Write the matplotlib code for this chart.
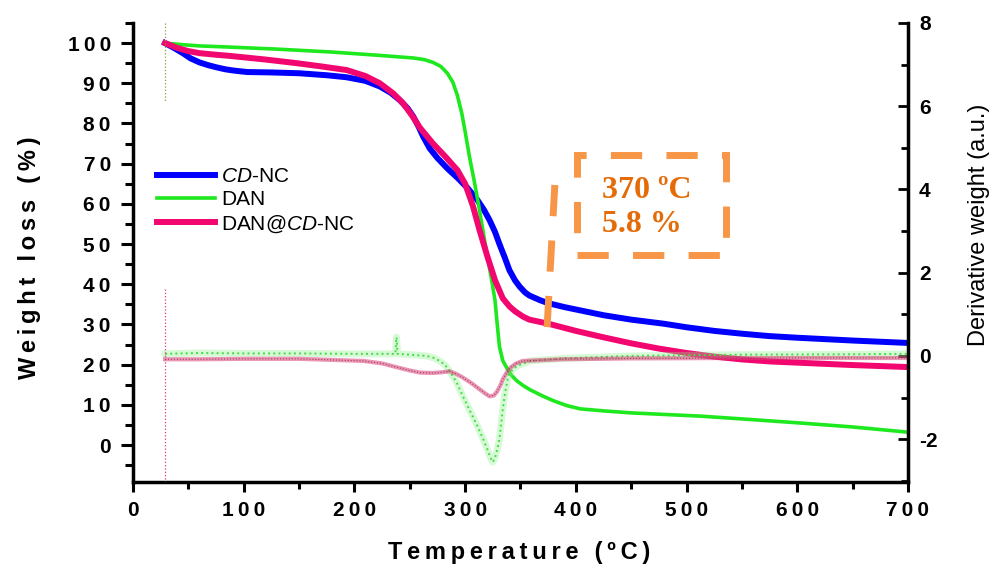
import matplotlib
matplotlib.use("Agg")
import matplotlib.pyplot as plt
from matplotlib.patches import Rectangle
from matplotlib.ticker import MultipleLocator, FuncFormatter

plt.rcParams["font.family"] = ["Liberation Sans", "DejaVu Sans"]
plt.rcParams["mathtext.fontset"] = "custom"
plt.rcParams["mathtext.it"] = "Liberation Sans:italic"
plt.rcParams["mathtext.rm"] = "Liberation Sans"
plt.rcParams["axes.unicode_minus"] = False

# TGA curves (weight %, left axis)
cdnc_t = [29, 37, 45, 52, 60, 68, 75, 83, 90, 103, 125, 150, 175, 193, 210, 223, 233, 241, 248,
          253, 258, 262, 268, 275, 284, 293, 302, 311, 317, 322, 327, 331, 336, 340, 345, 349,
          354, 358, 368, 375, 390, 404, 425, 450, 479, 500, 525, 550, 575, 600, 650, 700]
cdnc_w = [100, 98.8, 97.5, 96.2, 95.2, 94.5, 94, 93.5, 93.2, 92.8, 92.7, 92.5, 92, 91.5, 90.6,
          89.2, 87.6, 85.8, 83.8, 81.8, 79.2, 76.8, 73.8, 71.4, 68.8, 66.5, 64, 61, 58.5, 56, 53,
          50, 46.5, 43.5, 41, 39.5, 38, 37.2, 36, 35.3, 34.3, 33.5, 32.3, 31.2, 30.2, 29.3, 28.4,
          27.7, 27.1, 26.7, 26, 25.4]

dan_t = [29, 45, 60, 88, 130, 178, 220, 253, 263, 271, 278, 284, 289, 293, 297, 300, 304, 308,
         312, 316, 320, 324, 327, 329, 331, 334, 338, 342, 347, 353, 359, 370, 380, 392, 404, 425,
         450, 512, 550, 602, 650, 700]
dan_w = [100, 99.6, 99.3, 99, 98.5, 97.8, 97, 96.3, 95.9, 95.2, 94.2, 92.5, 90.2, 87, 82.5, 78,
         71.6, 66, 60, 53.5, 47, 41, 36, 30, 24.5, 21, 19, 17.3, 15.9, 14.7, 13.7, 12.2, 11, 9.8,
         9, 8.5, 8.0, 7.2, 6.5, 5.5, 4.5, 3.2]

mix_t = [29, 40, 50, 60, 75, 88, 120, 148, 170, 193, 210, 223, 235, 244, 252, 259, 265, 271, 282,
         293, 300, 307, 313, 320, 327, 334, 340, 345, 352, 358, 375, 400, 425, 450, 475, 500, 525,
         550, 575, 600, 650, 700]
mix_w = [100, 98.8, 98, 97.5, 97.1, 96.8, 95.9, 95, 94.2, 93.3, 91.8, 90, 87.5, 85, 82, 79, 77,
         75, 71.8, 68.4, 65, 59.5, 53.5, 47, 41, 36.5, 34.5, 33.3, 32, 31.2, 30.2, 28.4, 26.8,
         25.3, 24, 22.9, 22, 21.3, 20.8, 20.5, 19.9, 19.4]

# DTG curves (derivative, right axis)
dtg_dan_t = [29, 60, 100, 150, 200, 230, 237, 238, 239, 250, 265, 272, 277, 282, 286, 292, 298,
             304, 311, 316, 320, 323, 325, 327, 329, 331, 334, 336, 339, 343, 347, 359, 388, 450,
             550, 650, 700]
dtg_dan_d = [0.05, 0.07, 0.06, 0.06, 0.05, 0.05, 0.05, 0.45, 0.05, 0.03, 0.0, -0.05, -0.12, -0.22,
             -0.37, -0.62, -0.97, -1.3, -1.68, -1.98, -2.24, -2.45, -2.55, -2.45, -2.25, -2.0,
             -1.28, -0.9, -0.48, -0.32, -0.24, -0.12, -0.06, 0.0, 0.03, 0.04, 0.05]

dtg_mix_t = [29, 60, 100, 150, 208, 225, 238, 250, 259, 271, 280, 286, 292, 298, 306, 313, 318,
             322, 326, 329, 332, 334, 338, 341, 346, 352, 388, 450, 550, 650, 700]
dtg_mix_d = [-0.08, -0.08, -0.07, -0.07, -0.12, -0.18, -0.27, -0.35, -0.4, -0.41, -0.39, -0.37,
             -0.43, -0.52, -0.66, -0.8, -0.9, -0.97, -0.95, -0.85, -0.7, -0.56, -0.38, -0.28,
             -0.18, -0.12, -0.08, -0.06, -0.05, -0.05, -0.05]

# start-of-run spikes in the derivative traces
spike_t = [29, 29]
spike_mix_d = [1.6, -3.1]
spike_dan_d = [8.0, 6.1]

labels = ["$\\mathit{CD}$-NC", "DAN", "DAN@$\\mathit{CD}$-NC"]
note = "370 ºC\n5.8 %"

BLUE = "#0000FF"
GREEN = "#1EE81E"
PINK = "#F2066F"
ORANGE = "#F79646"


def spaced(s):
    return "\u2009".join(s)


fig = plt.figure(figsize=(9.97, 5.75), dpi=100)
ax = fig.add_axes([0.1334, 0.1617, 0.7773, 0.7983])
ax2 = ax.twinx()

ax.plot(cdnc_t, cdnc_w, color=BLUE, lw=4.3, label=labels[0], zorder=3)
ax.plot(dan_t, dan_w, color=GREEN, lw=2.6, label=labels[1], zorder=3)
ax.plot(mix_t, mix_w, color=PINK, lw=4.3, label=labels[2], zorder=3)

ax2.plot(dtg_dan_t, dtg_dan_d, color="#8CF08C", lw=5, alpha=0.35)
ax2.plot(dtg_dan_t, dtg_dan_d, color="#45DC45", lw=1.4, ls=":")
ax2.plot(dtg_mix_t, dtg_mix_d, color="#DC3C78", lw=3, alpha=0.55)
ax2.plot(dtg_mix_t, dtg_mix_d, color="#A0405A", lw=0.8, ls=":")
ax2.plot(spike_t, spike_mix_d, color="#E0307A", lw=0.9, ls=":")
ax2.plot(spike_t, spike_dan_d, color="#8A9A40", lw=0.9, ls=":")

ax.set_xlim(0, 700)
ax.set_ylim(-9.2, 105)
ax2.set_ylim(-3.03, 8)

ax.xaxis.set_major_locator(MultipleLocator(100))
ax.xaxis.set_minor_locator(MultipleLocator(50))
ax.yaxis.set_major_locator(MultipleLocator(10))
ax.yaxis.set_minor_locator(MultipleLocator(5))
ax2.yaxis.set_major_locator(MultipleLocator(2))
ax2.yaxis.set_minor_locator(MultipleLocator(1))

fmt = FuncFormatter(lambda v, p: spaced(f"{v:g}"))
ax.xaxis.set_major_formatter(fmt)
ax.yaxis.set_major_formatter(fmt)

for s in ["top", "right"]:
    ax.spines[s].set_visible(False)
for s in ["top", "left", "bottom"]:
    ax2.spines[s].set_visible(False)
for sp in [ax.spines["left"], ax.spines["bottom"], ax2.spines["right"]]:
    sp.set_linewidth(2.5)

ax.tick_params(axis="y", which="major", direction="out", length=9, width=2.2, pad=7)
ax.tick_params(axis="y", which="minor", direction="out", length=6, width=2.2)
ax.tick_params(axis="x", which="major", direction="out", length=7, width=2.2, pad=7)
ax.tick_params(axis="x", which="minor", direction="out", length=5, width=2.2)
ax2.tick_params(axis="y", which="major", direction="in", length=7, width=2, pad=8)
ax2.tick_params(axis="y", which="minor", direction="in", length=5, width=2)

for t in ax.get_xticklabels() + ax.get_yticklabels():
    t.set_fontsize(15)
    t.set_fontweight("bold")
for t in ax2.get_yticklabels():
    t.set_fontsize(15)
    t.set_fontweight("bold")

ax.set_xlabel(spaced("Temperature (ºC)"), fontsize=17, fontweight="bold")
ax.xaxis.set_label_coords(0.498, -0.1525)
ax.xaxis.label.set_va("center")
ax.set_ylabel(spaced("Weight loss (%)"), fontsize=17, fontweight="bold")
ax.yaxis.set_label_coords(-0.133, 0.489)
ax.yaxis.label.set_va("center")
ax2.set_ylabel("Derivative weight (a.u.)", fontsize=17)
ax2.yaxis.set_label_coords(1.0916, 0.56)
ax2.yaxis.label.set_va("center")

ax.legend(loc="upper left", bbox_to_anchor=(0.031, 0.686), frameon=False, fontsize=15,
          handlelength=2.8, handletextpad=0.26, labelspacing=0.2, borderpad=0,
          borderaxespad=0)

# dashed annotation box and pointer
box = Rectangle((401, 47.3), 135, 24.8, fill=False, edgecolor=ORANGE, lw=5,
                linestyle=(0, (4.5, 3.5)), zorder=5)
ax.add_patch(box)
ax.plot([381, 374], [64.7, 29.1], color=ORANGE, lw=5, linestyle=(0, (4.5, 3.5)),
        solid_capstyle="butt", zorder=5)
ax.text(423.7, 59.1, note, color="#E36C09", fontsize=23, fontweight="bold",
        family=["Liberation Serif", "DejaVu Serif"], ha="left", va="center",
        linespacing=1.2, zorder=6)

fig.savefig("out.png", dpi=100)
